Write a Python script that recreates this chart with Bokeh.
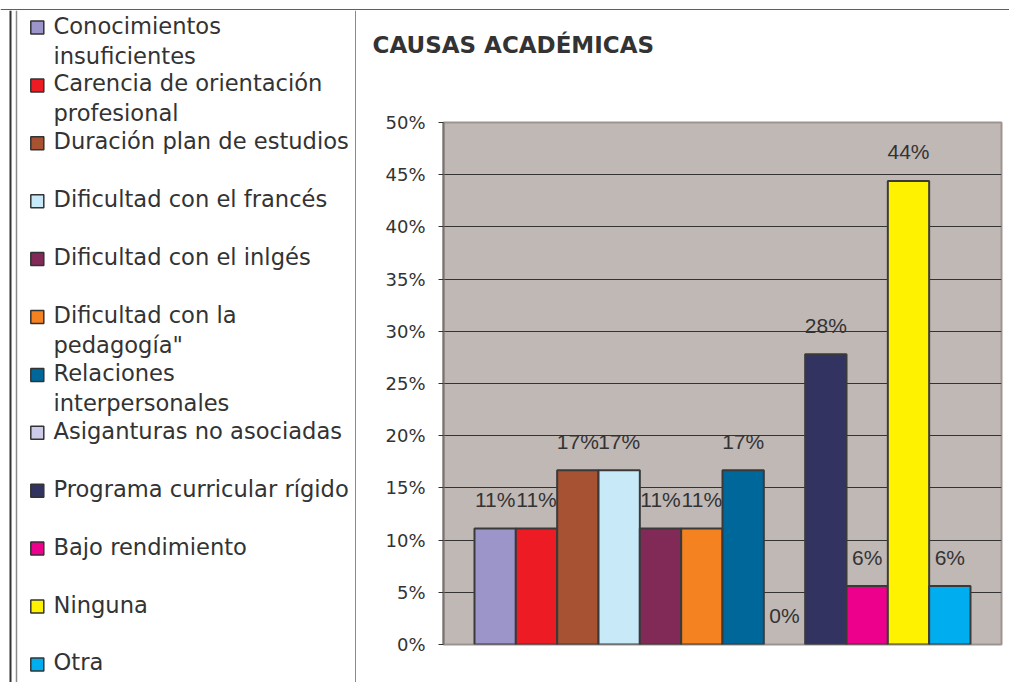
from bokeh.plotting import figure
from bokeh.layouts import row, column
from bokeh.models import Range1d, FixedTicker, PrintfTickFormatter, ColumnDataSource
from bokeh.core.properties import value
from bokeh.embed import file_html
from bokeh.resources import INLINE

# ---------------- data ----------------
chart_title = "CAUSAS ACADÉMICAS"
categories = [
    "Conocimientos\ninsuficientes",
    "Carencia de orientación\nprofesional",
    "Duración plan de estudios",
    "Dificultad con el francés",
    "Dificultad con el inlgés",
    "Dificultad con la\npedagogía\"",
    "Relaciones\ninterpersonales",
    "Asiganturas no asociadas",
    "Programa curricular rígido",
    "Bajo rendimiento",
    "Ninguna",
    "Otra",
]
percent = [11.1, 11.1, 16.7, 16.7, 11.1, 11.1, 16.7, 0.0, 27.8, 5.6, 44.4, 5.6]
pct_labels = ["11%", "11%", "17%", "17%", "11%", "11%", "17%", "0%", "28%", "6%", "44%", "6%"]
colors = ["#9b95c9", "#ed1c24", "#a65233", "#c7e9f8", "#822a57", "#f58220",
          "#00679a", "#ccccea", "#333361", "#ec008c", "#fff200", "#00aeef"]
y_ticks = [0, 5, 10, 15, 20, 25, 30, 35, 40, 45, 50]

TEXT = "#333333"
DARK = "#333333"
GRAY = "#8a8a8a"

W, H = 1009, 684
SH = 10           # top strip height
BS = 2            # bottom strip height
LW = 356          # legend panel width
RW = W - LW       # chart panel width
BH = H - SH - BS  # body height
TH = 100          # title panel height


def blank(width, height):
    f = figure(width=width, height=height, x_range=Range1d(0, width),
               y_range=Range1d(height, 0), min_border=0, toolbar_location=None,
               output_backend="svg", x_axis_location=None, y_axis_location=None,
               outline_line_color=None)
    f.grid.visible = False
    return f


# ---------------- top strip ----------------
strip = blank(W, SH)
strip.segment(x0=[0], y0=[8], x1=[W], y1=[8], line_color="#2a2a2a", line_width=2.5)
strip.segment(x0=[10], y0=[8], x1=[10], y1=[SH], line_color=DARK, line_width=2)
strip.segment(x0=[16], y0=[9], x1=[16], y1=[SH], line_color=GRAY, line_width=1.5)
strip.segment(x0=[355.5], y0=[9], x1=[355.5], y1=[SH], line_color=GRAY, line_width=2)

# ---------------- legend panel ----------------
leg = blank(LW, BH)
first_y, step, line_gap = 15.0, 57.9, 30.0
base = [first_y + step * i for i in range(len(categories))]
tx, ty, tt = [], [], []
for b, c in zip(base, categories):
    for k, t in enumerate(c.split("\n")):
        tx.append(53)
        ty.append(b + k * line_gap)
        tt.append(t)

leg.rect(x=[36.8] * len(base), y=[b + 2 for b in base], width=13, height=13,
         fill_color=colors, line_color=DARK, line_width=1.5)
leg.text(x=tx, y=ty, text=tt, text_font=value("DejaVu Sans"), text_font_size="22.6px",
         text_color=TEXT, text_baseline="alphabetic", text_align="left")
leg.segment(x0=[10], y0=[0], x1=[10], y1=[BH], line_color=DARK, line_width=2)
leg.segment(x0=[16], y0=[0], x1=[16], y1=[BH], line_color=GRAY, line_width=1.5)
leg.segment(x0=[355.5], y0=[0], x1=[355.5], y1=[BH], line_color=GRAY, line_width=2)

# ---------------- title panel ----------------
tf = blank(RW, TH)
tf.text(x=[16], y=[34], text=[chart_title], text_font=value("DejaVu Sans"),
        text_font_style="bold", text_font_size="23px", text_color=TEXT,
        text_baseline="alphabetic", text_align="left")

# ---------------- chart ----------------
p = figure(width=RW, height=BH - TH, x_range=Range1d(-1.25, 12.25), y_range=Range1d(0, 50),
           min_border_left=87, min_border_right=8, min_border_top=12, min_border_bottom=38,
           toolbar_location=None, output_backend="svg", x_axis_location=None,
           background_fill_color="#c0b8b5", border_fill_color="white",
           outline_line_color="#9d948f", outline_line_width=2)

p.yaxis.ticker = FixedTicker(ticks=y_ticks)
p.yaxis.formatter = PrintfTickFormatter(format="%d%%")
p.yaxis.major_label_text_font = "DejaVu Sans"
p.yaxis.major_label_text_font_size = "18px"
p.yaxis.major_label_text_color = TEXT
p.yaxis.axis_line_color = "#7a7270"
p.yaxis.axis_line_width = 2
p.yaxis.major_tick_line_color = DARK
p.yaxis.major_tick_out = 5
p.yaxis.major_tick_in = 0
p.yaxis.minor_tick_line_color = None
p.yaxis.major_label_standoff = 13

p.xgrid.visible = False
p.ygrid.ticker = FixedTicker(ticks=y_ticks[1:-1])
p.ygrid.grid_line_color = DARK
p.ygrid.grid_line_width = 1

src = ColumnDataSource(dict(
    x=list(range(len(percent))),
    top=percent,
    color=colors,
    line=["#3a3a3a" if v > 0 else None for v in percent],
    label=pct_labels,
))
p.vbar(x="x", top="top", bottom=0, width=1, fill_color="color", line_color="line",
       line_width=2, source=src)
p.text(x="x", y="top", text="label", y_offset=-29, text_align="center",
       text_baseline="alphabetic", text_font=value("Liberation Sans"),
       text_font_size="21px", text_color=TEXT, source=src)

# ---------------- bottom strip ----------------
bstrip = blank(W, BS)
bstrip.segment(x0=[10], y0=[0], x1=[10], y1=[0.5], line_color=DARK, line_width=2)
bstrip.segment(x0=[16], y0=[0], x1=[16], y1=[BS], line_color=GRAY, line_width=1.5)
bstrip.segment(x0=[0], y0=[1.5], x1=[W], y1=[1.5], line_color=GRAY, line_width=1)

# nesting keeps Bokeh from aligning the frames of sibling plots
layout = column(strip, row(leg, column(tf, column(p))), bstrip)

open("out.html", "w").write(file_html(layout, INLINE))
